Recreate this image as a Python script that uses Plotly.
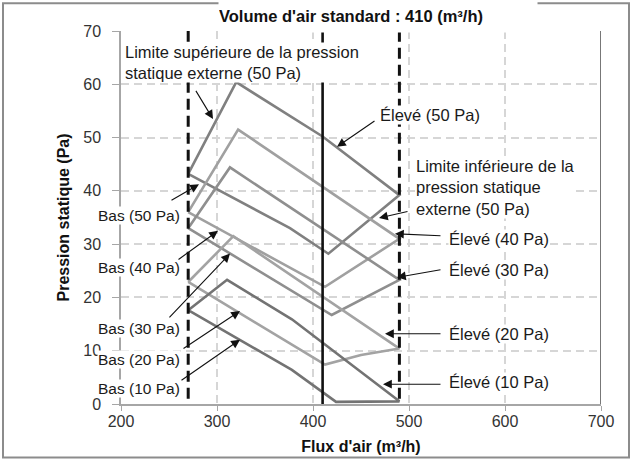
import plotly.graph_objects as go

# ---------------- data ----------------
X_RANGE = [200, 700]
Y_RANGE = [0, 70]
X_TICKS = [200, 300, 400, 500, 600, 700]
Y_TICKS = [0, 10, 20, 30, 40, 50, 60, 70]

LIMIT_FLOWS = [270, 490]      # dashed limits
STANDARD_FLOW = 410           # standard air volume

# 50 Pa setting
bas_50_x = [270, 376, 416];      bas_50_y = [43.2, 33.0, 28.2]
elev_50_x = [320, 410, 490];     elev_50_y = [60.4, 50.2, 39.2]
low_50_x = [416, 490];           low_50_y = [28.2, 39.2]
# 40 Pa setting
bas_40_x = [270, 412.5];         bas_40_y = [36.0, 22.0]
elev_40_x = [322, 490];          elev_40_y = [51.5, 31.0]
low_40_x = [412.5, 490];         low_40_y = [22.0, 31.0]
# 30 Pa setting
bas_30_x = [270, 419.5];         bas_30_y = [33.0, 16.7]
elev_30_x = [313.5, 490];        elev_30_y = [44.4, 23.3]
low_30_x = [419.5, 490];         low_30_y = [16.7, 23.3]
# 20 Pa setting
bas_20_x = [270, 412.5];         bas_20_y = [22.9, 7.4]
elev_20_x = [317, 490];          elev_20_y = [31.5, 10.4]
low_20_x = [412.5, 450, 490];    low_20_y = [7.4, 9.2, 10.4]
# 10 Pa setting
bas_10_x = [270, 378, 424];      bas_10_y = [17.6, 6.4, 0.4]
elev_10_x = [310.5, 378, 490];   elev_10_y = [23.3, 15.9, 0.5]
low_10_x = [424, 490];           low_10_y = [0.4, 0.5]

settings = [
    (50, bas_50_x, bas_50_y, elev_50_x, elev_50_y, low_50_x, low_50_y, "#808080"),
    (40, bas_40_x, bas_40_y, elev_40_x, elev_40_y, low_40_x, low_40_y, "#a0a0a0"),
    (30, bas_30_x, bas_30_y, elev_30_x, elev_30_y, low_30_x, low_30_y, "#8f8f8f"),
    (20, bas_20_x, bas_20_y, elev_20_x, elev_20_y, low_20_x, low_20_y, "#a3a3a3"),
    (10, bas_10_x, bas_10_y, elev_10_x, elev_10_y, low_10_x, low_10_y, "#737373"),
]

FONT = "Liberation Sans, Arial, sans-serif"

# ---------------- layout geometry (pixels) ----------------
W, H = 632, 465
ML, MR, MT, MB = 121, 31, 31, 57
PW, PH = W - ML - MR, H - MT - MB


def dx(px):
    return X_RANGE[0] + (px - ML) / PW * (X_RANGE[1] - X_RANGE[0])


def dy(py):
    return Y_RANGE[0] + (MT + PH - py) / PH * (Y_RANGE[1] - Y_RANGE[0])


def paper_x(px):
    return (px - ML) / PW


def paper_y(py):
    return (MT + PH - py) / PH


fig = go.Figure()

for p, bx, by, ex, ey, lx, ly, col in settings:
    xs = bx + lx[1:] + ex[::-1][1:] + [bx[0]]
    ys = by + ly[1:] + ey[::-1][1:] + [by[0]]
    fig.add_trace(go.Scatter(x=xs, y=ys, mode="lines",
                             line=dict(color=col, width=2.6),
                             name=f"{p} Pa", showlegend=False, hoverinfo="skip"))

for fx in LIMIT_FLOWS:
    fig.add_trace(go.Scatter(x=[fx, fx], y=[Y_RANGE[0] + 1, Y_RANGE[1]], mode="lines",
                             line=dict(color="#111111", width=3, dash="11px,6px"),
                             showlegend=False, hoverinfo="skip"))
fig.add_trace(go.Scatter(x=[STANDARD_FLOW, STANDARD_FLOW], y=Y_RANGE, mode="lines",
                         line=dict(color="#111111", width=2.6),
                         showlegend=False, hoverinfo="skip"))

annotations = []


def label(text, px, py, anchor, size=16.5):
    annotations.append(dict(text=text, x=dx(px), y=dy(py), xref="x", yref="y",
                            xanchor=anchor, yanchor="middle", showarrow=False,
                            align="left", bgcolor="white", borderpad=0,
                            font=dict(family=FONT, size=size, color="#1a1a1a")))


def arrow(tail, head):
    annotations.append(dict(text="", x=dx(head[0]), y=dy(head[1]),
                            ax=dx(tail[0]), ay=dy(tail[1]), xref="x", yref="y",
                            axref="x", ayref="y", showarrow=True, arrowhead=2,
                            arrowsize=1.6, arrowwidth=1.1, arrowcolor="#111111",
                            standoff=0, startstandoff=0))


label("Limite supérieure de la pression<br>statique externe (50 Pa)", 124, 63, "left")
arrow((195, 90), (213, 120))
label("Limite inférieure de la<br>pression statique<br>externe (50 Pa)", 415, 189, "left")
arrow((409, 213), (379, 220))

bas_labels = [("Bas (50 Pa)", 217, (170, 203), (199, 186)),
              ("Bas (40 Pa)", 270, (177, 263), (218, 233)),
              ("Bas (30 Pa)", 332, (168, 322), (230, 256)),
              ("Bas (20 Pa)", 363, (182, 353), (240, 314)),
              ("Bas (10 Pa)", 392, (180, 385), (240, 343))]
for t, py, tail, head in bas_labels:
    label(t, 181, py, "right", size=15.5)
    arrow(tail, head)

label("Élevé (50 Pa)", 379, 116, "left")
arrow((376, 121), (337, 148))
elev_labels = [("Élevé (40 Pa)", 241, (442, 238), (395, 236)),
               ("Élevé (30 Pa)", 273, (442, 272), (397, 280)),
               ("Élevé (20 Pa)", 337, (442, 337), (385, 337)),
               ("Élevé (10 Pa)", 386, (442, 388), (383, 388))]
for t, py, tail, head in elev_labels:
    label(t, 448, py, "left")
    arrow(tail, head)

# chart title with white box over the top gridline
annotations.append(dict(text="<b>Volume d'air standard : 410 (m³/h)</b>",
                        xref="paper", yref="paper", x=paper_x(218), y=paper_y(33.5),
                        xanchor="left", yanchor="bottom", showarrow=False,
                        width=318, height=33, align="left", valign="middle",
                        bgcolor="white", borderpad=0,
                        font=dict(family=FONT, size=16.5, color="#111111")))

shapes = [
    # right frame of plot area
    dict(type="line", xref="x", yref="y", x0=X_RANGE[1], x1=X_RANGE[1],
         y0=Y_RANGE[0], y1=Y_RANGE[1], line=dict(color="#555555", width=1.6), layer="above"),
    # outer chart border
    dict(type="rect", xref="paper", yref="paper", x0=paper_x(3), x1=paper_x(629),
         y0=paper_y(462), y1=paper_y(3), line=dict(color="#8c8c8c", width=2)),
]

fig.update_layout(
    width=W, height=H,
    margin=dict(l=ML, r=MR, t=MT, b=MB),
    paper_bgcolor="white", plot_bgcolor="white",
    font=dict(family=FONT, size=16, color="#222222"),
    showlegend=False,
    annotations=annotations,
    shapes=shapes,
    xaxis=dict(range=X_RANGE, tickvals=X_TICKS, showgrid=True, gridcolor="#d6d6d6",
               gridwidth=1.5, griddash="8px,5px", zeroline=False, showline=True,
               linecolor="#a6a6a6", linewidth=1.5, ticks="outside", ticklen=5,
               tickcolor="#a6a6a6", tickfont=dict(size=16, color="#333333"),
               ticklabelstandoff=-3,
               title=dict(text="<b>Flux d'air (m³/h)</b>", standoff=12,
                          font=dict(size=16, color="#111111"))),
    yaxis=dict(range=Y_RANGE, tickvals=Y_TICKS, showgrid=True, gridcolor="#d6d6d6",
               gridwidth=1.5, griddash="8px,5px", zeroline=False, showline=True,
               linecolor="#a6a6a6", linewidth=1.5, ticks="outside", ticklen=7,
               tickcolor="#a6a6a6", tickfont=dict(size=16, color="#333333"),
               ticklabelstandoff=8,
               title=dict(text="<b>Pression statique (Pa)</b>", standoff=10,
                          font=dict(size=16, color="#111111"))),
)

fig.write_html("out.html", config={"displayModeBar": False},
               post_script="document.body.style.margin='0';")
